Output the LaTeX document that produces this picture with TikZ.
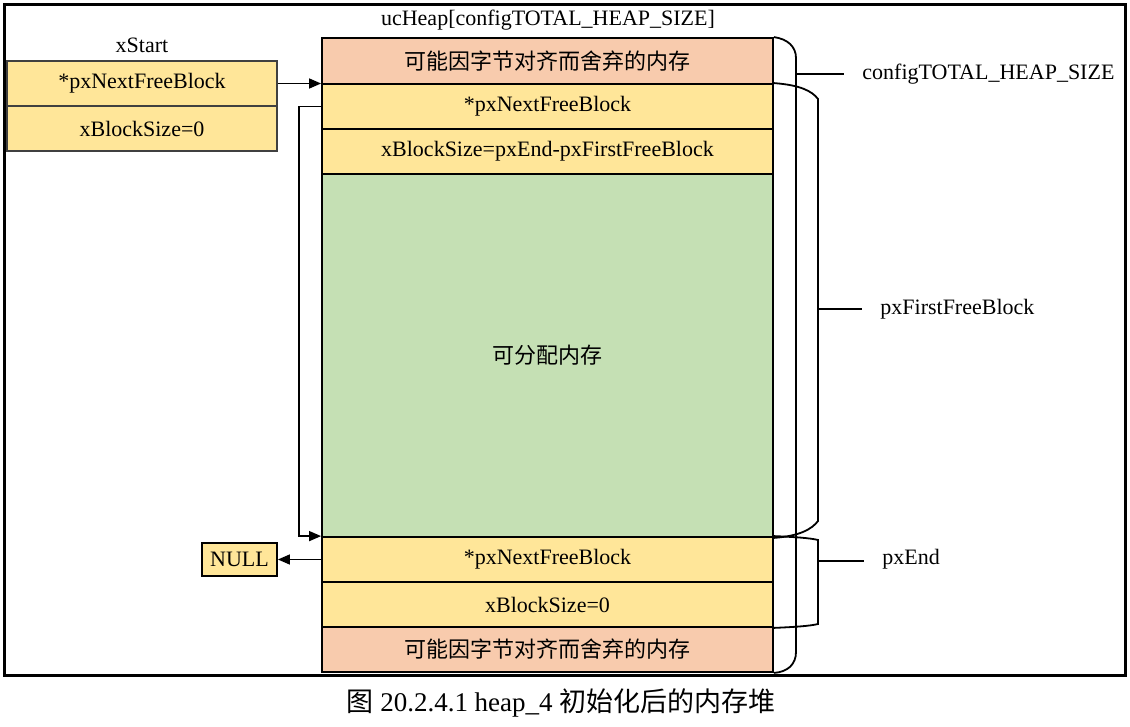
\documentclass[tikz,border=0pt]{standalone}
\usepackage{fontspec}
\setmainfont{Liberation Serif}
\newfontfamily\cjk{Noto Sans CJK SC}
\usetikzlibrary{arrows.meta}
\definecolor{padpink}{HTML}{F8CBAD}
\definecolor{hdryellow}{HTML}{FFE699}
\definecolor{freegreen}{HTML}{C5E0B4}

\begin{document}
\begin{tikzpicture}[x=0.5pt,y=-0.5pt,
  font=\fontsize{11}{13}\selectfont,
  cell/.style={draw, line width=0.9pt, minimum width=225.5pt, minimum height=22.5pt, inner sep=0pt},
  ptr/.style={-{Triangle[length=6pt,width=5pt]}, line width=0.7pt},
  brace/.style={line width=0.9pt},
  tag/.style={anchor=west, inner xsep=9pt, inner ysep=2pt}]
  \useasboundingbox (0,0) rectangle (1130,727);

  % Outer frame
  \draw[line width=1.5pt] (4.5,4.5) rectangle (1125,675.5);

  % The heap array
  \def\hx{547.5}
  \node[] (ucheap) at (548,20) {ucHeap[configTOTAL\_HEAP\_SIZE]};
  \node[cell, fill=padpink, minimum height=23pt] (pad1) at (\hx,61) {\cjk 可能因字节对齐而舍弃的内存};
  \node[cell, fill=hdryellow] (next1) at (\hx,106.5) {*pxNextFreeBlock};
  \node[cell, fill=hdryellow] (size1) at (\hx,151.5) {xBlockSize=pxEnd-pxFirstFreeBlock};
  \node[cell, fill=freegreen, minimum height=181.5pt] (free) at (\hx,355.5) {\cjk 可分配内存};
  \node[cell, fill=hdryellow] (next2) at (\hx,559.5) {*pxNextFreeBlock};
  \node[cell, fill=hdryellow] (size2) at (\hx,604.5) {xBlockSize=0};
  \node[cell, fill=padpink] (pad2) at (\hx,649.5) {\cjk 可能因字节对齐而舍弃的内存};

  % xStart
  \node[] (xstart) at (142,45) {xStart};
  \node[cell, fill=hdryellow, draw=black!75, minimum width=135pt] (snext) at (142,83.5) {*pxNextFreeBlock};
  \node[cell, fill=hdryellow, draw=black!75, minimum width=135pt] (ssize) at (142,128.5) {xBlockSize=0};

  % NULL
  \node[cell, fill=hdryellow, minimum width=37.5pt, minimum height=16.5pt] (null) at (239.5,559.5) {NULL};

  % Pointers
  \draw[ptr] (snext.east) -- (snext.east -| pad1.west);
  \draw[ptr] (next1.west) -- ++(-22,0) |- (next2.north west);
  \draw[ptr] (next2.west) -- (null.east);

  % Braces
  \node[tag] (total) at (844,74) {configTOTAL\_HEAP\_SIZE};
  \draw[brace] (pad1.north east) .. controls (788,39) and (796,47) .. (796,58)
    -- (796,652) .. controls (796,664) and (788,672) .. (pad2.south east);
  \draw[brace] (796,74) -- (total.west);

  \node[tag] (firstfree) at (862,309) {pxFirstFreeBlock};
  \draw[brace] (next1.north east) .. controls (800,85) and (812,91) .. (818,99)
    -- (818,521) .. controls (812,529) and (800,536) .. (free.south east);
  \draw[brace] (818,309) -- (firstfree.west);

  \node[tag] (pxend) at (864,559) {pxEnd};
  \draw[brace] (next2.north east) .. controls (795,537) and (810,538) .. (818,540)
    -- (818,624) .. controls (810,626) and (795,627) .. (size2.south east);
  \draw[brace] (818,561) -- (818,561 -| pxend.west);

  % Caption
  \node[font=\fontsize{13.5}{15}\selectfont] (caption) at (561,703) {{\cjk 图} 20.2.4.1 heap\_4 {\cjk 初始化后的内存堆}};
\end{tikzpicture}
\end{document}
